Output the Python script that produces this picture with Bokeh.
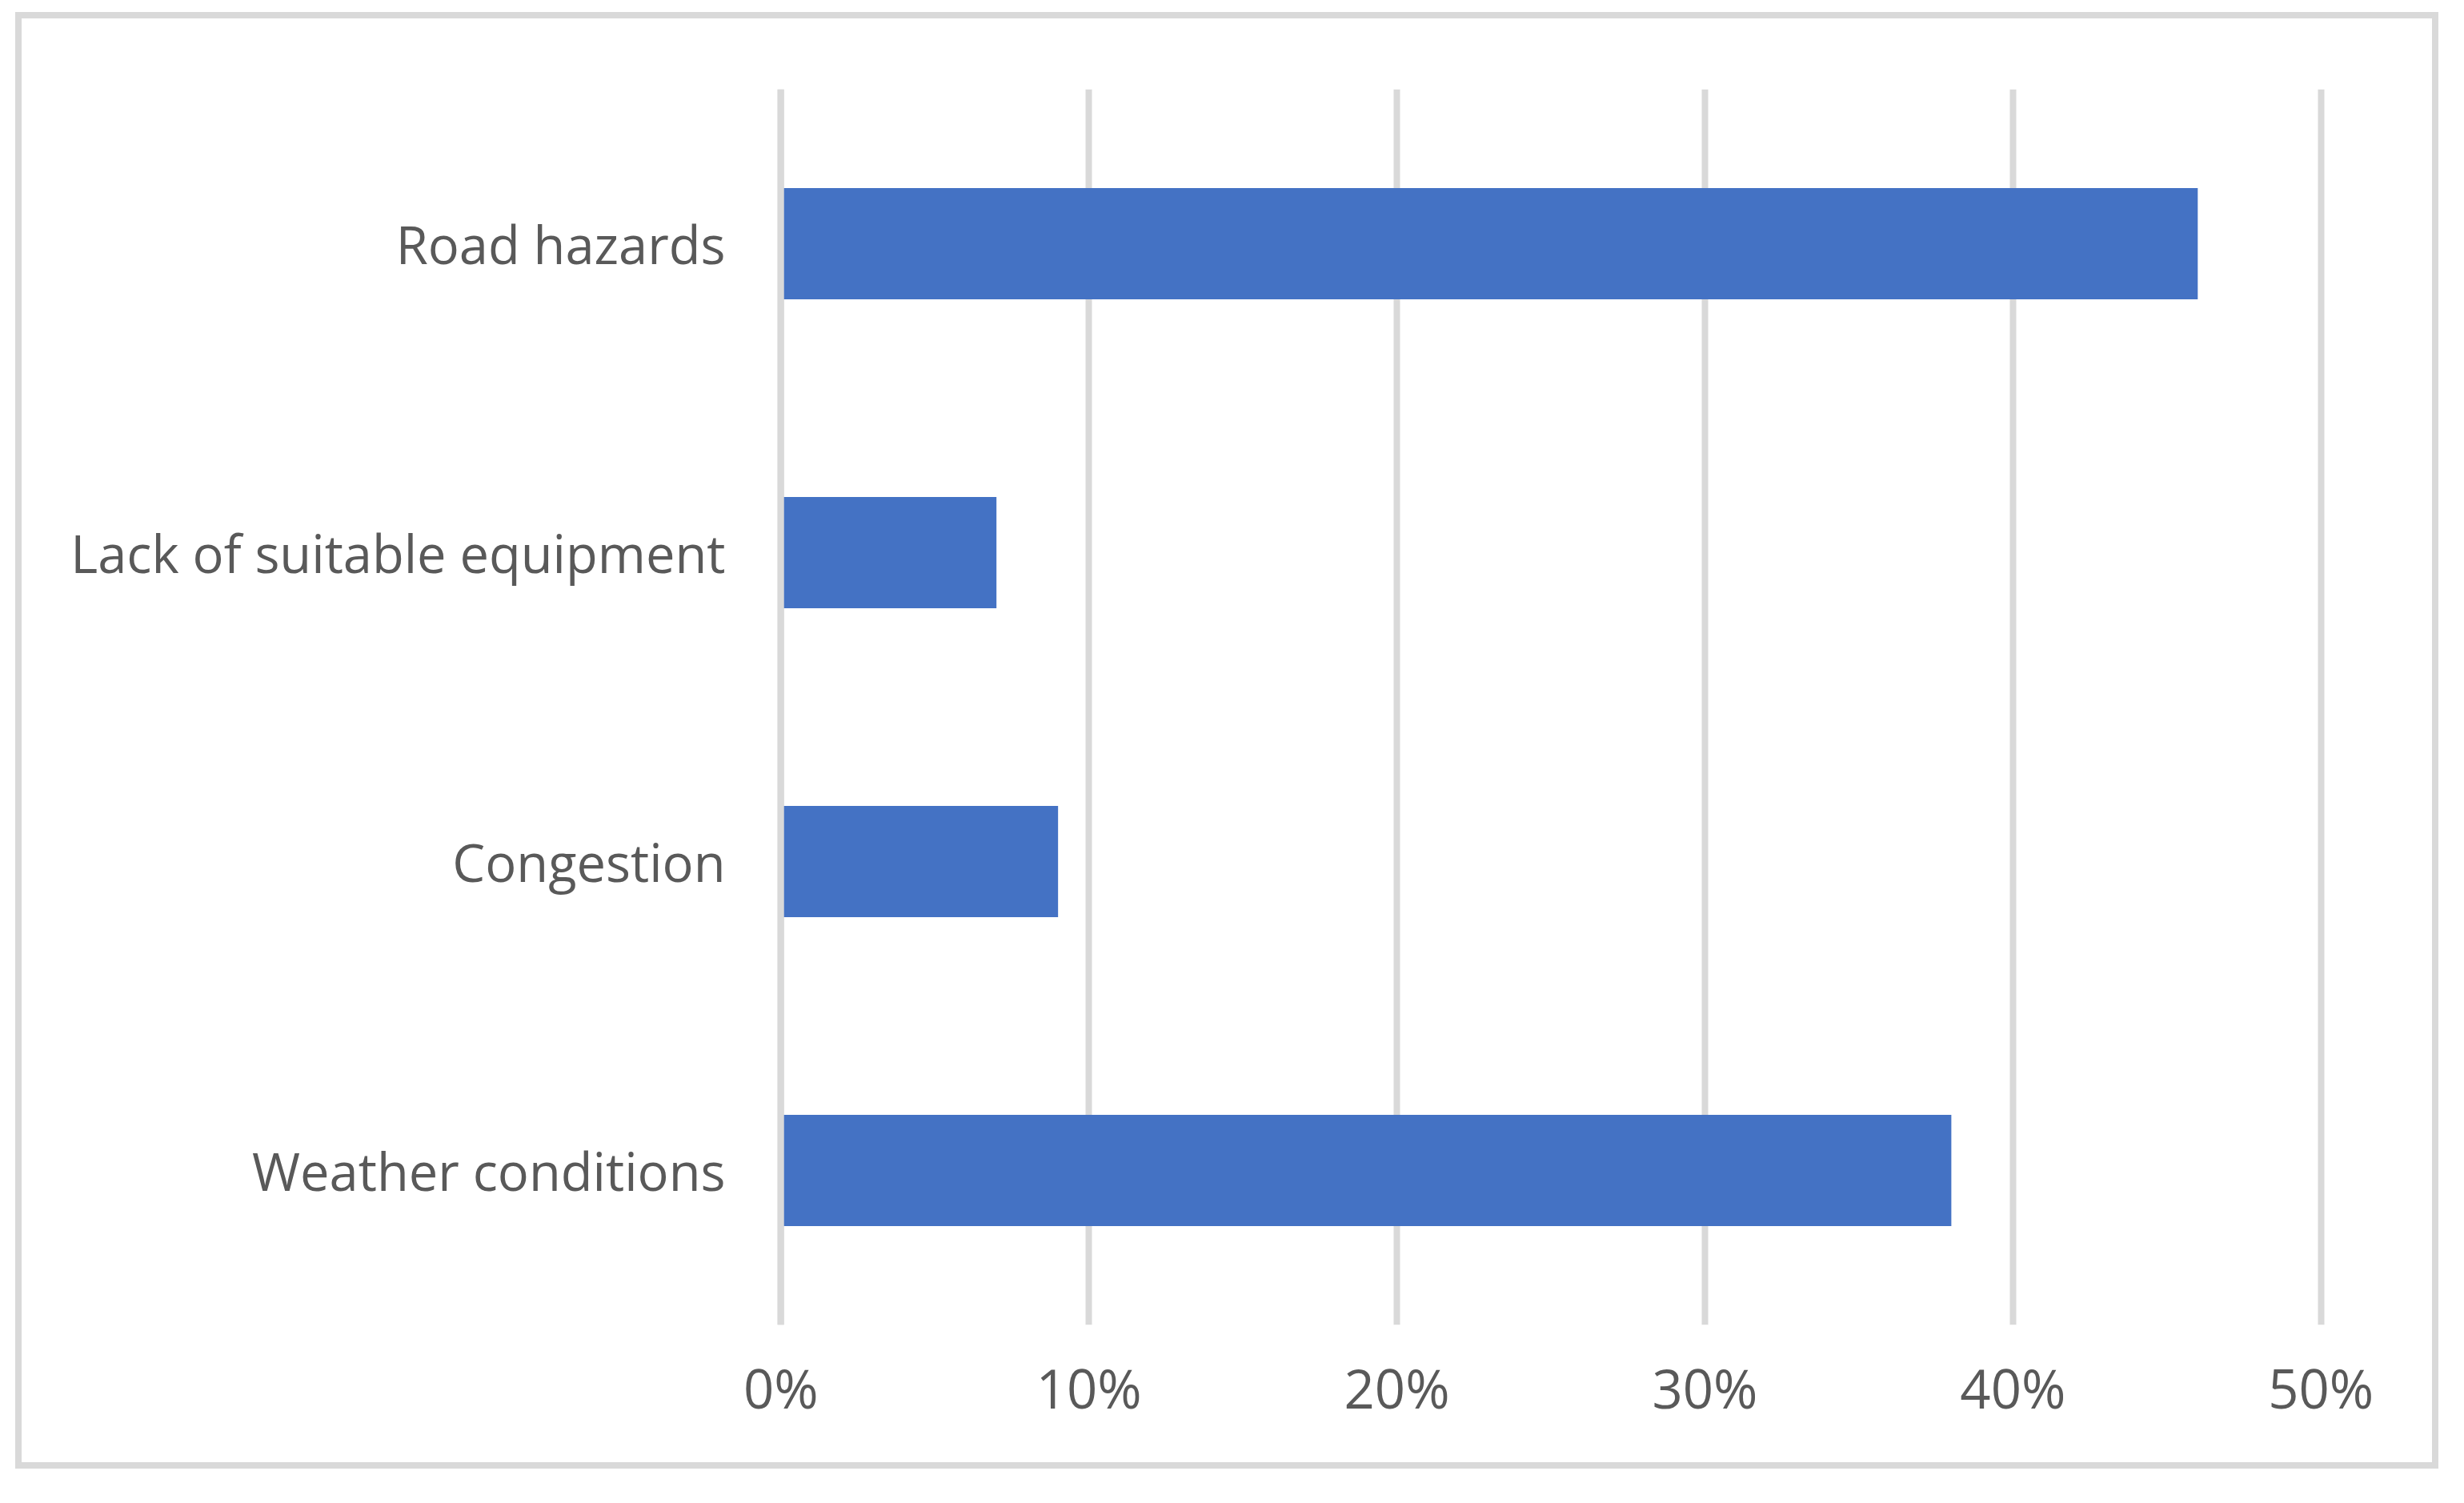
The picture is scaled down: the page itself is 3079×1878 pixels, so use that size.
from bokeh.plotting import figure
from bokeh.models import FactorRange, Range1d, FixedTicker, NumeralTickFormatter, Span, ColumnDataSource
from bokeh.embed import file_html
from bokeh.resources import INLINE

# Data (top to bottom as shown)
categories = ["Road hazards", "Lack of suitable equipment", "Congestion", "Weather conditions"]
values = [0.46, 0.07, 0.09, 0.38]
tick_values = [0.0, 0.1, 0.2, 0.3, 0.4, 0.5]

factors = list(reversed(categories))
src = ColumnDataSource(dict(cat=categories, val=values))

pad = 0.00266
p = figure(
    width=3012, height=1804,
    y_range=FactorRange(*factors, range_padding=0),
    x_range=Range1d(-pad, 0.5 + pad),
    output_backend="svg", toolbar_location=None,
    min_border_left=938, min_border_right=145,
    min_border_top=88, min_border_bottom=188,
)
p.styles = {"border": "8px solid #d9d9d9", "box-sizing": "content-box",
            "position": "relative", "left": "19px", "top": "15px"}
p.outline_line_color = None
p.background_fill_color = "white"
p.border_fill_color = "white"

p.hbar(y="cat", right="val", left=0, height=0.36, source=src,
       fill_color="#4472c4", line_color=None)

p.add_layout(Span(location=0, dimension="height", line_color="#d9d9d9", line_width=8))

p.ygrid.grid_line_color = None
p.xgrid.grid_line_color = "#d9d9d9"
p.xgrid.grid_line_width = 8
p.xaxis.ticker = FixedTicker(ticks=tick_values)
p.xaxis.formatter = NumeralTickFormatter(format="0%")

for ax in (p.xaxis[0], p.yaxis[0]):
    ax.axis_line_color = None
    ax.major_tick_line_color = None
    ax.minor_tick_line_color = None
    ax.major_tick_out = 0
    ax.major_tick_in = 0
    ax.major_label_text_font = "Open Sans"
    ax.major_label_text_color = "#595959"

p.yaxis.major_label_text_font_size = "65px"
p.xaxis.major_label_text_font_size = "67px"
p.yaxis.major_label_standoff = 59
p.xaxis.major_label_standoff = 32

open("out.html", "w").write(file_html(p, INLINE))
